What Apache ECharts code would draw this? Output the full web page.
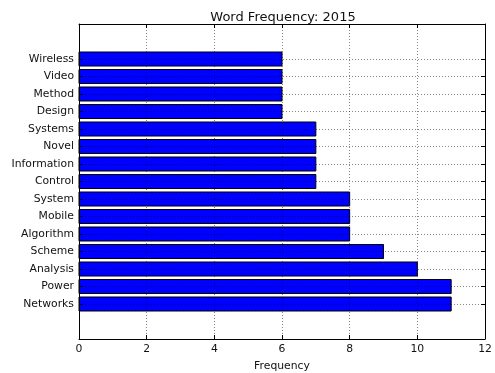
<!DOCTYPE html>
<html><head><meta charset="utf-8">
<script src="https://cdn.jsdelivr.net/npm/echarts@6/dist/echarts.min.js"></script>
<style>html,body{margin:0;padding:0;background:#fff}#c{width:495px;height:373px}</style>
</head><body><div id="c"></div>
<script>
const categories = ['Networks','Power','Analysis','Scheme','Algorithm','Mobile','System','Control','Information','Novel','Systems','Design','Method','Video','Wireless'];
const values = [11,11,10,9,8,8,8,7,7,7,7,6,6,6,6];
const xTicks = [0,2,4,6,8,10,12];
const titleText = 'Word Frequency: 2015';
const xName = 'Frequency';

const idx = categories.map((_, i) => i);
const font = 'DejaVu Sans';
const data = values.map((v, i) => [v, i]);

const chart = echarts.init(document.getElementById('c'), null, {renderer: 'canvas'});
const tickStyle = {show: true, inside: true, length: 4, lineStyle: {color: '#000', width: 1}};
const axisLine = {show: true, onZero: false, lineStyle: {color: '#000', width: 1}};
const gridLine = {show: true, lineStyle: {color: '#000', width: 0.6, type: [1, 2], opacity: 0.8}};
const txt = '#111';
chart.setOption({
  animation: false,
  title: {text: titleText, left: 278, top: 6, textAlign: 'center',
    textStyle: {fontFamily: font, fontSize: 13, fontWeight: 'normal', color: txt}},
  grid: {left: 79, right: 10, top: 24, bottom: 34, containLabel: false, outerBoundsMode: 'none'},
  xAxis: [{
    type: 'value', min: xTicks[0], max: xTicks[xTicks.length - 1], interval: 2,
    name: xName, nameLocation: 'middle', nameGap: 22,
    nameTextStyle: {fontFamily: font, fontSize: 10.8, color: txt},
    axisLine: axisLine,
    axisTick: tickStyle,
    axisLabel: {fontFamily: font, fontSize: 10.8, color: txt, margin: 5},
    splitLine: gridLine
  }, {
    type: 'value', position: 'top', min: xTicks[0], max: xTicks[xTicks.length - 1], interval: 2,
    axisLine: axisLine,
    axisTick: tickStyle, axisLabel: {show: false}, splitLine: {show: false}
  }],
  yAxis: [{
    type: 'value', min: -2, max: 16, interval: 1,
    axisLine: axisLine,
    axisTick: Object.assign({customValues: idx}, tickStyle),
    axisLabel: {customValues: idx, fontFamily: font, fontSize: 10.8, color: txt, margin: 5,
      formatter: v => categories[Math.round(v)] || ''},
    splitLine: gridLine
  }, {
    type: 'value', position: 'right', min: -2, max: 16, interval: 1,
    axisLine: axisLine,
    axisTick: Object.assign({customValues: idx}, tickStyle),
    axisLabel: {show: false}, splitLine: {show: false}
  }],
  series: [{
    type: 'custom', z: -1, xAxisIndex: 0, yAxisIndex: 0,
    data: data,
    encode: {x: 0, y: 1},
    renderItem: function (params, api) {
      const v = api.value(0), c = api.value(1);
      const p0 = api.coord([0, c + 0.4]);
      const p1 = api.coord([v, c - 0.4]);
      return {
        type: 'rect',
        shape: {x: p0[0], y: p0[1], width: p1[0] - p0[0], height: p1[1] - p0[1]},
        style: {fill: '#0000ff', stroke: '#000', lineWidth: 1}
      };
    }
  }]
});
</script></body></html>
